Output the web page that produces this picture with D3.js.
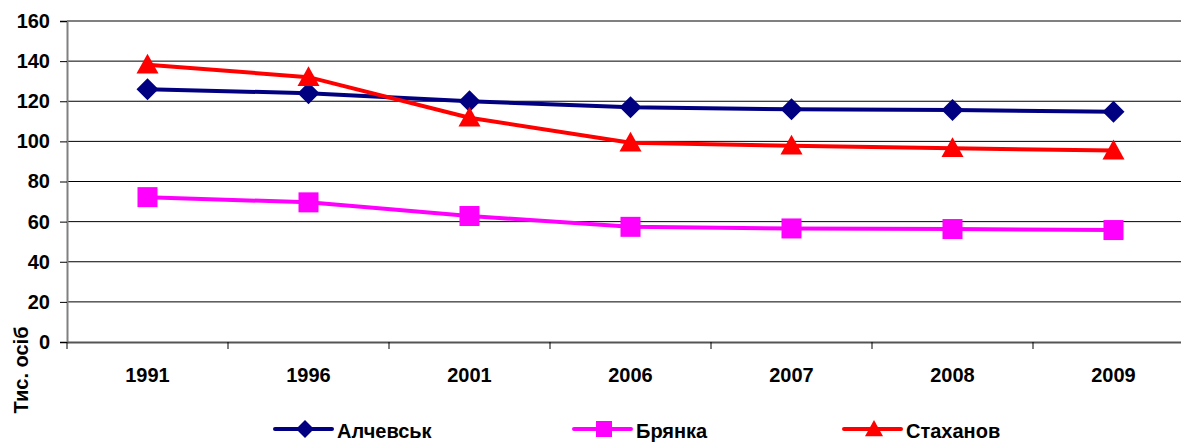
<!DOCTYPE html>
<html><head><meta charset="utf-8">
<script src="https://cdn.jsdelivr.net/npm/d3@7"></script>
<style>body{margin:0;background:#fff}svg{display:block}text{font-family:"Liberation Sans",Arial,sans-serif;font-weight:bold;fill:#000}</style>
</head><body>
<svg id="c" width="1181" height="442"></svg>
<script>
const categories = ["1991","1996","2001","2006","2007","2008","2009"];
const alchevsk = [126, 124, 120, 117, 116, 115.6, 114.8];
const bryanka = [72.2, 69.6, 62.8, 57.4, 56.6, 56.3, 55.8];
const stakhanov = [138.2, 132, 111.8, 99.3, 97.8, 96.6, 95.4];
const yTicks = [0,20,40,60,80,100,120,140,160];
const seriesNames = ["Алчевськ","Брянка","Стаханов"];
const yTitle = "Тис. осіб";

const series = [
  {name: seriesNames[0], values: alchevsk, color: "#000080", marker: "diamond"},
  {name: seriesNames[1], values: bryanka, color: "#FF00FF", marker: "square"},
  {name: seriesNames[2], values: stakhanov, color: "#FF0000", marker: "triangle"}
];

const svg = d3.select("#c");
const pL = 67, pR = 1194, pT = 21, pB = 342;
const x = d3.scaleBand().domain(categories).range([pL, pR]).padding(0);
const y = d3.scaleLinear().domain([0,160]).range([pB, pT]);

// gridlines
svg.append("g").selectAll("line").data(yTicks.filter(t => t>0 && t<160)).join("line")
  .attr("x1", pL).attr("x2", pR).attr("y1", d=>y(d)).attr("y2", d=>y(d))
  .attr("stroke", "#000").attr("stroke-width", 1);
svg.append("line").attr("x1", pL).attr("x2", pR).attr("y1", y(160)).attr("y2", y(160))
  .attr("stroke", "#808080").attr("stroke-width", 2);

// y axis
const yAxis = svg.append("g").attr("transform", `translate(${pL},0)`)
  .call(d3.axisLeft(y).tickValues(yTicks).tickSize(7).tickPadding(10));
yAxis.select(".domain").attr("stroke", "#808080").attr("stroke-width", 2);
yAxis.selectAll(".tick line").attr("stroke", "#000");
yAxis.selectAll("text").attr("font-size", 20).attr("font-family", "Liberation Sans, Arial").attr("font-weight", "bold").attr("fill","#000");

// x axis
const xAxis = svg.append("g").attr("transform", `translate(0,${pB})`)
  .call(d3.axisBottom(x).tickSize(0).tickPadding(26));
xAxis.select(".domain").attr("stroke", "#555").attr("stroke-width", 2);
xAxis.selectAll("text").attr("font-size", 20).attr("font-family", "Liberation Sans, Arial").attr("font-weight", "bold").attr("fill","#000");
// boundary ticks
svg.append("g").selectAll("line").data(categories).join("line")
  .attr("x1", d=>x(d)).attr("x2", d=>x(d)).attr("y1", pB).attr("y2", pB+7)
  .attr("stroke", "#000").attr("stroke-width", 1);

// y title
svg.append("text").attr("transform", `translate(28,370) rotate(-90)`)
  .attr("text-anchor","middle").attr("font-size", 20).text(yTitle);

const cx = d => x(d) + x.bandwidth()/2;
function drawMarker(g, type, px, py, color, s) {
  if (type === "diamond") {
    g.append("path").attr("d", `M${px},${py-s}L${px+s},${py}L${px},${py+s}L${px-s},${py}Z`).attr("fill", color);
  } else if (type === "square") {
    g.append("rect").attr("x", px-s).attr("y", py-s).attr("width", 2*s).attr("height", 2*s).attr("fill", color);
  } else {
    g.append("path").attr("d", `M${px},${py-s}L${px+s},${py+s*0.8}L${px-s},${py+s*0.8}Z`).attr("fill", color);
  }
}
const line = d3.line().x((d,i)=>cx(categories[i])).y(d=>y(d));
series.forEach(s => {
  const g = svg.append("g");
  g.append("path").attr("d", line(s.values)).attr("fill","none").attr("stroke", s.color).attr("stroke-width", 4).attr("stroke-linejoin","round");
  s.values.forEach((v,i) => drawMarker(g, s.marker, cx(categories[i]), y(v), s.color, s.marker==="square"?10:11));
});

// legend
const legX = [275, 574, 844];
series.forEach((s,i) => {
  const g = svg.append("g");
  const ly = 429;
  g.append("line").attr("x1", legX[i]).attr("x2", legX[i]+57).attr("y1", ly).attr("y2", ly)
    .attr("stroke", s.color).attr("stroke-width", 4).attr("stroke-linecap","round");
  drawMarker(g, s.marker, legX[i]+30, ly, s.color, s.marker==="square"?8:9);
  g.append("text").attr("x", legX[i]+62).attr("y", 438).attr("font-size", 20).text(s.name);
});
</script>
</body></html>
